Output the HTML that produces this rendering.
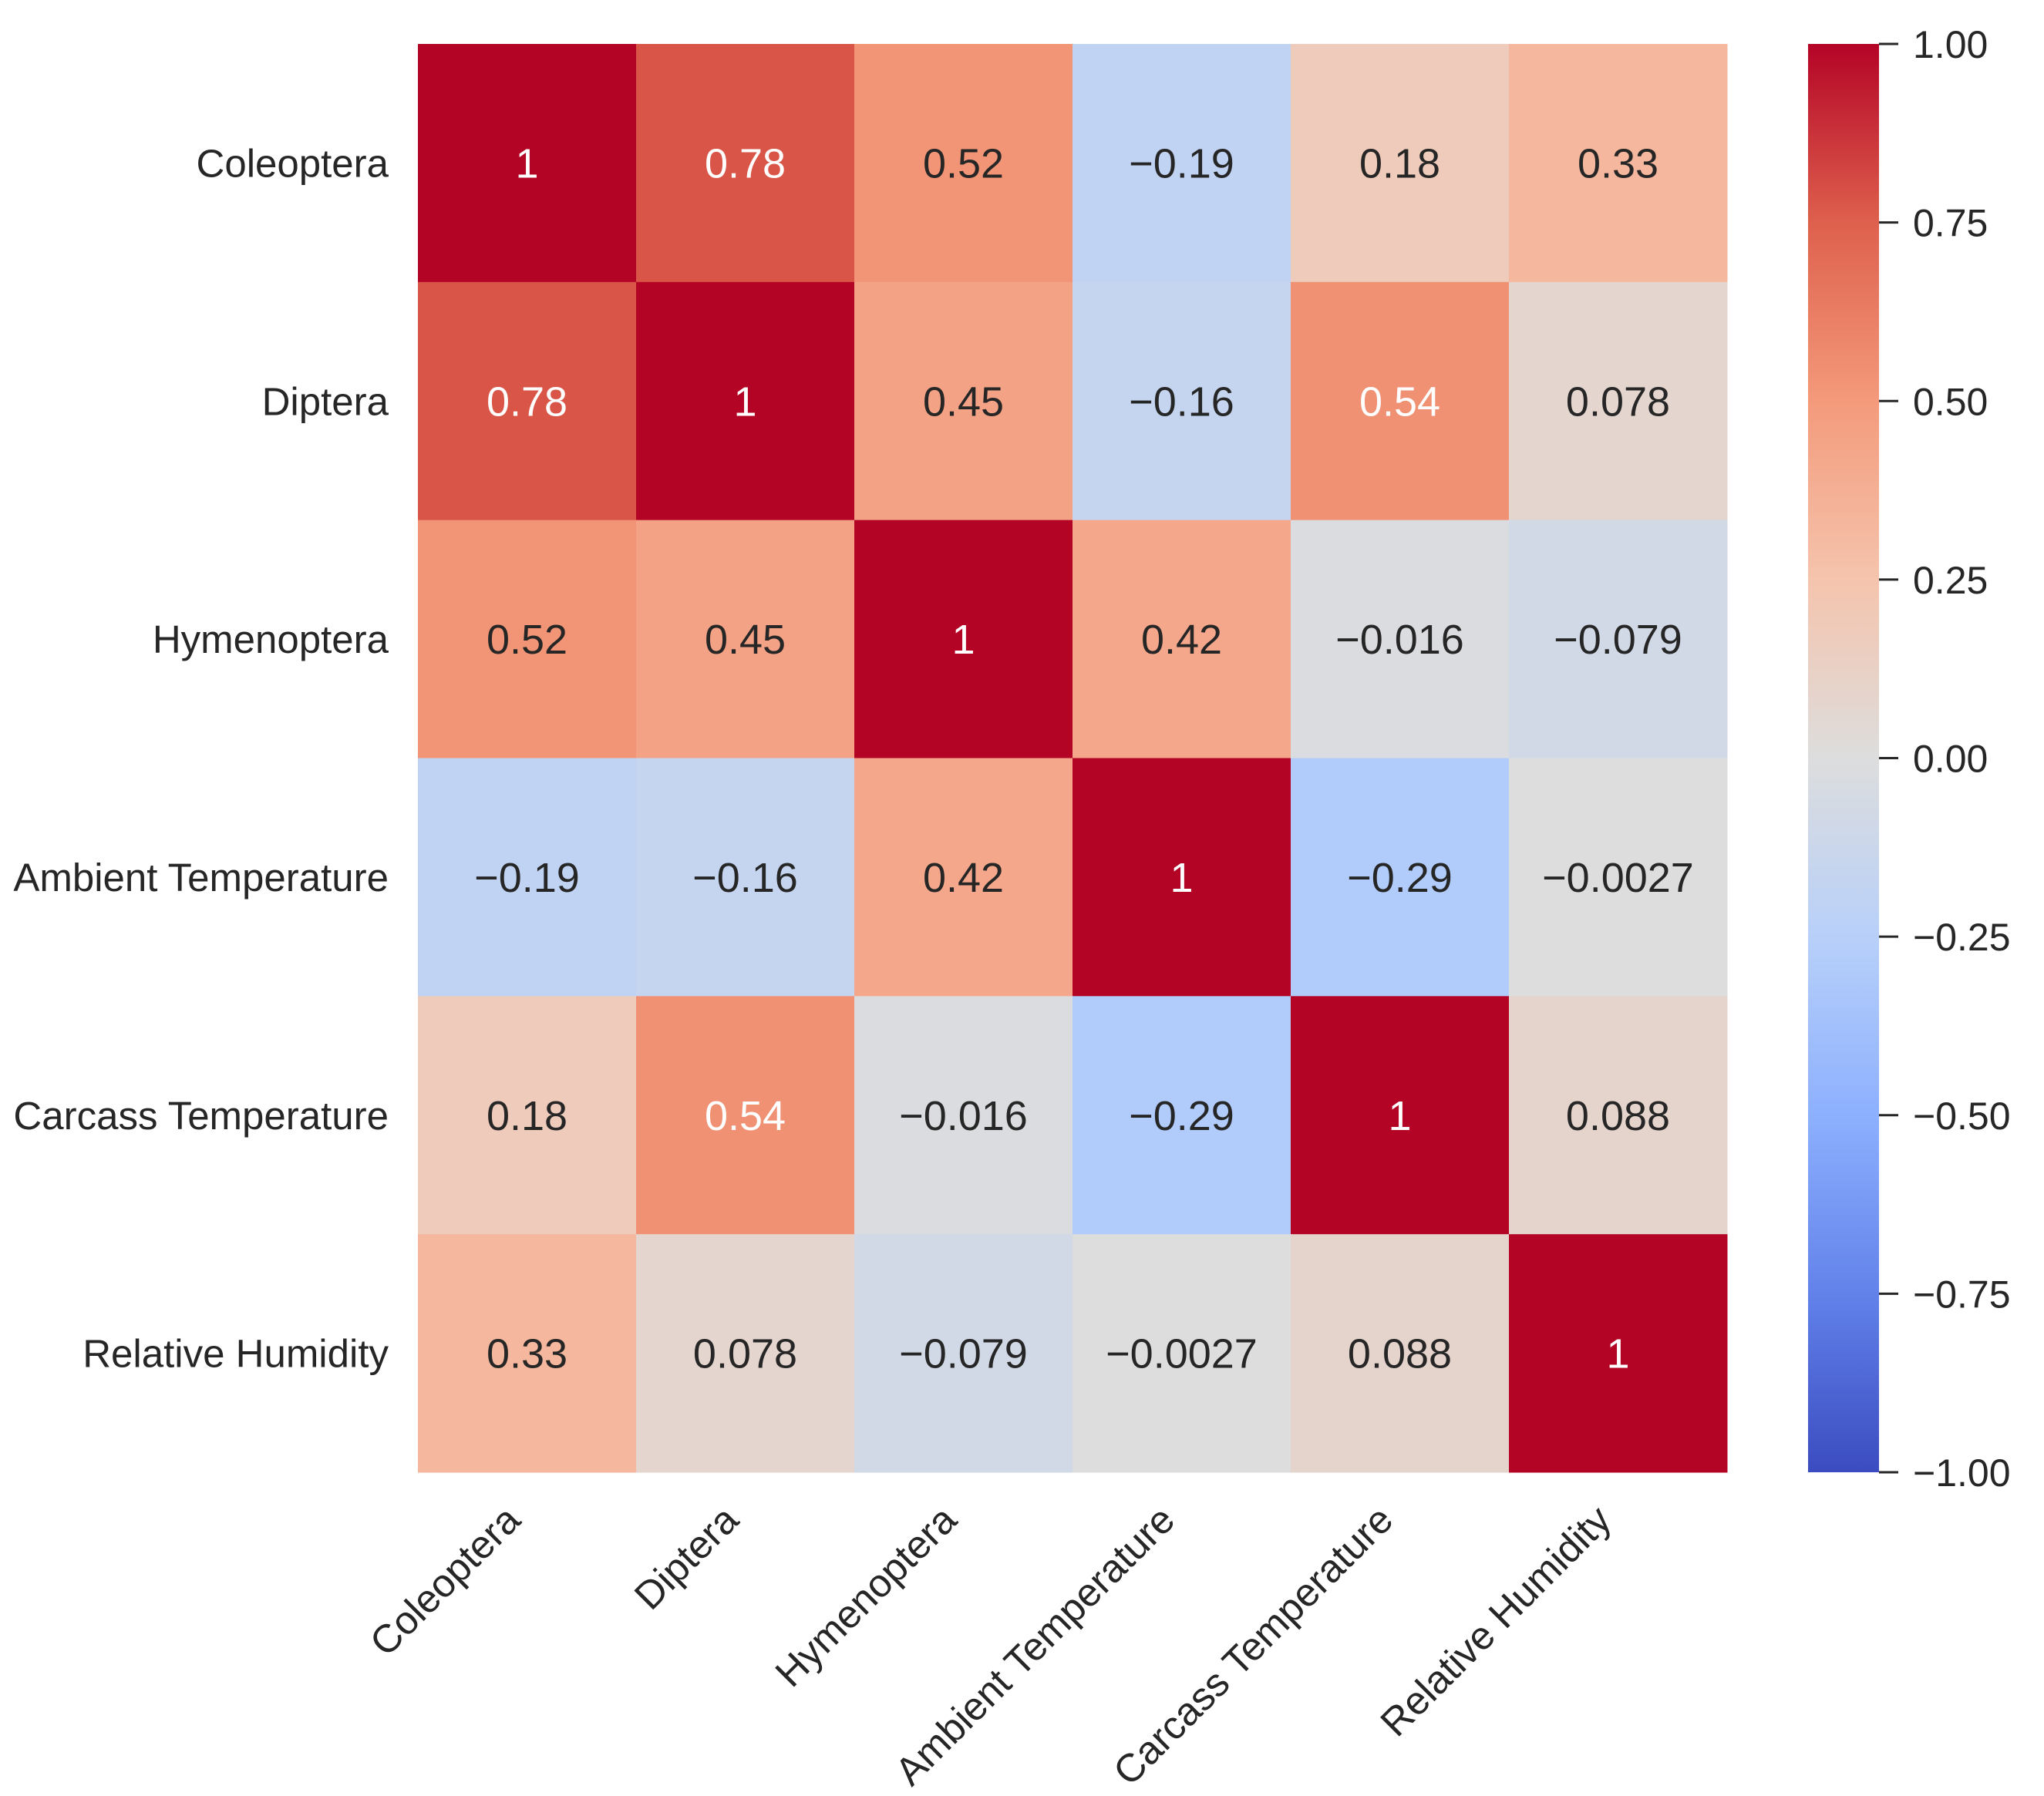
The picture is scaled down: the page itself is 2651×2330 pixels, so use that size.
<!DOCTYPE html>
<html><head><meta charset="utf-8"><style>
html,body{margin:0;padding:0;background:#fff;}
svg{display:block;font-family:"Liberation Sans",Arial,sans-serif;}
</style></head><body>
<svg id="chart" width="2651" height="2330" viewBox="0 0 2651 2330" xmlns="http://www.w3.org/2000/svg">
<defs>
<linearGradient id="cbgrad" x1="0" y1="1" x2="0" y2="0">
<stop offset="0" stop-color="rgb(59,76,192)"/>
<stop offset="0.125" stop-color="rgb(98,130,234)"/>
<stop offset="0.25" stop-color="rgb(141,176,254)"/>
<stop offset="0.375" stop-color="rgb(184,208,249)"/>
<stop offset="0.5" stop-color="rgb(221,221,221)"/>
<stop offset="0.625" stop-color="rgb(245,196,173)"/>
<stop offset="0.75" stop-color="rgb(244,154,123)"/>
<stop offset="0.875" stop-color="rgb(222,96,77)"/>
<stop offset="1" stop-color="rgb(180,4,38)"/>
</linearGradient>
</defs>
<g id="cells"></g>
<g id="ylabels"></g>
<g id="xlabels"></g>
<g id="colorbar">
<rect x="2345" y="57" width="92" height="1853" fill="url(#cbgrad)"/>
</g>
</svg>
<script>
const labels = ["Coleoptera","Diptera","Hymenoptera","Ambient Temperature","Carcass Temperature","Relative Humidity"];
const row0 = [1, 0.78, 0.52, -0.19, 0.18, 0.33];
const row1 = [0.78, 1, 0.45, -0.16, 0.54, 0.078];
const row2 = [0.52, 0.45, 1, 0.42, -0.016, -0.079];
const row3 = [-0.19, -0.16, 0.42, 1, -0.29, -0.0027];
const row4 = [0.18, 0.54, -0.016, -0.29, 1, 0.088];
const row5 = [0.33, 0.078, -0.079, -0.0027, 0.088, 1];
const matrix = [row0,row1,row2,row3,row4,row5];
const cbTicks = [1, 0.75, 0.5, 0.25, 0, -0.25, -0.5, -0.75, -1];

const NS = "http://www.w3.org/2000/svg";
const L = 542, R = 2240, T = 57, B = 1910;
const cw = (R - L) / labels.length, ch = (B - T) / labels.length;
const vmin = -1, vmax = 1;
const xScale = i => L + i * cw;
const yScale = i => T + i * ch;
const cbY = v => B - (v - vmin) / (vmax - vmin) * (B - T);

const anchors = [[59,76,192],[98,130,234],[141,176,254],[184,208,249],[221,221,221],[245,196,173],[244,154,123],[222,96,77],[180,4,38]];
function coolwarm(v){
  let t = (v - vmin) / (vmax - vmin);
  t = Math.max(0, Math.min(1, t));
  const p = t * (anchors.length - 1);
  const i = Math.min(anchors.length - 2, Math.floor(p));
  const f = p - i;
  return anchors[i].map((a, k) => Math.round(a + (anchors[i+1][k] - a) * f));
}
function fmt(v){ return String(v).replace("-", "\u2212"); }
function mk(tag, attrs){
  const e = document.createElementNS(NS, tag);
  for (const k in attrs) e.setAttribute(k, attrs[k]);
  return e;
}
const cells = document.getElementById("cells");
matrix.forEach((row, r) => {
  row.forEach((v, c) => {
    const col = coolwarm(v);
    const rect = mk("rect", {x: xScale(c), y: yScale(r), width: cw + 0.5, height: ch + 0.5, fill: `rgb(${col.join(",")})`});
    
    
    cells.appendChild(rect);
    const txt = mk("text", {x: xScale(c) + cw/2, y: yScale(r) + ch/2 + 19, "text-anchor": "middle", "font-size": "54", fill: v > 0.53 ? "#ffffff" : "#262626"});
    txt.textContent = fmt(v);
    
    
    cells.appendChild(txt);
  });
});
const yl = document.getElementById("ylabels");
labels.forEach((lab, i) => {
  const t = mk("text", {x: 504, y: yScale(i) + ch/2 + 18, "text-anchor": "end", "font-size": "51", fill: "#262626"});
  t.textContent = lab;
  
  
  yl.appendChild(t);
});
const xl = document.getElementById("xlabels");
labels.forEach((lab, i) => {
  const x = xScale(i) + cw/2 - 6, y = 1975;
  const t = mk("text", {x: x, y: y, "text-anchor": "end", "font-size": "51", fill: "#262626", transform: `rotate(-45 ${x} ${y})`});
  t.textContent = lab;
  
  
  xl.appendChild(t);
});
const cb = document.getElementById("colorbar");
cbTicks.forEach(v => {
  const y = cbY(v);
  const ln = mk("line", {x1: 2437, x2: 2462, y1: y, y2: y, stroke: "#262626", "stroke-width": "3"});
  
  
  cb.appendChild(ln);
  const t = mk("text", {x: 2481, y: y + 18, "font-size": "50", fill: "#262626"});
  t.textContent = (v < 0 ? "\u2212" : "") + Math.abs(v).toFixed(2);
  
  
  cb.appendChild(t);
});
</script>
</body></html>
